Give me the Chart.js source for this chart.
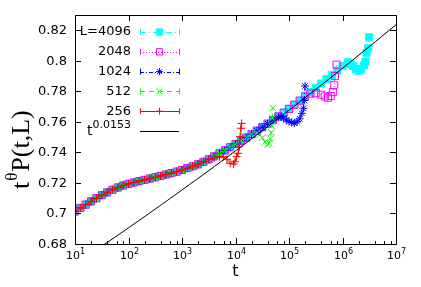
<!DOCTYPE html>
<html>
<head>
<meta charset="utf-8">
<script src="https://cdn.jsdelivr.net/npm/chart.js@4.4.1/dist/chart.umd.min.js"></script>
<style>
    body { margin: 0; background: #fff; }
    #wrap { width: 421px; height: 287px; }
</style>
</head>
<body>
<div id="wrap"><canvas id="chart"></canvas></div>
<script>
// common time grid (0.1 decade steps, t = 10 .. 1.26e6)
const tGrid = [10, 12.59, 15.85, 19.95, 25.12, 31.62, 39.81, 50.12, 63.1, 79.43,
    100, 125.9, 158.5, 199.5, 251.2, 316.2, 398.1, 501.2, 631, 794.3,
    1000, 1259, 1585, 1995, 2512, 3162, 3981, 5012, 6310, 7943,
    1e4, 12590, 15850, 19950, 25120, 31620, 39810, 50120, 63100, 79430,
    1e5, 125900, 158500, 199500, 251200, 316200, 398100, 501200, 631000, 794300,
    1e6, 1259000];
// collapsed curve, all sizes lie on it before they bend away
const baseVals = [0.7013, 0.7036, 0.7058, 0.7079, 0.7100, 0.7120, 0.7138, 0.7155, 0.7170, 0.7183,
    0.7194, 0.7203, 0.7212, 0.7220, 0.7229, 0.7237, 0.7246, 0.7255, 0.7264, 0.7274,
    0.7285, 0.7297, 0.7309, 0.7322, 0.7338, 0.7355, 0.7374, 0.7393, 0.7413, 0.7434,
    0.7455, 0.7476, 0.7497, 0.7519, 0.7542, 0.7565, 0.7588, 0.7612, 0.7636, 0.7660,
    0.7685, 0.7712, 0.7739, 0.7767, 0.7795, 0.7823, 0.7851, 0.7879, 0.7907, 0.7936,
    0.7965, 0.7990];

// finite size tails
const tail256T = [3981, 5012, 5890, 6920, 7943, 9120, 9770, 10470, 11220, 11750, 12160, 12590, 13030];
const tail256V = [0.7364, 0.7370, 0.7372, 0.7355, 0.7328, 0.7324, 0.7339, 0.7372, 0.7394, 0.7437, 0.7503, 0.7558, 0.7590];
const tail512T = [25120, 28180, 31620, 35480, 39810, 42660, 44670, 46770, 47860, 48980, 50120];
const tail512V = [0.7527, 0.7517, 0.7497, 0.7468, 0.7450, 0.7460, 0.7490, 0.7530, 0.7575, 0.7625, 0.7690];
const tail1024T = [63100, 70790, 79430, 89130, 1e5, 112200, 125900, 141300, 158500, 173800, 186200, 192800, 199500];
const tail1024V = [0.7630, 0.7634, 0.7625, 0.7612, 0.7603, 0.7596, 0.7592, 0.7601, 0.7620, 0.7656, 0.7689, 0.7740, 0.7835];
const tail2048T = [251200, 316200, 398100, 467700, 537000, 602600, 660700, 699800, 724400, 776200];
const tail2048V = [0.7785, 0.7788, 0.7778, 0.7766, 0.7758, 0.7770, 0.7795, 0.7840, 0.7900, 0.7975];
const tail4096T = [1413000, 1585000, 1778000, 1995000, 2239000, 2512000, 2692000, 2818000, 3020000, 3162000];
const tail4096V = [0.7980, 0.7965, 0.7945, 0.7935, 0.7945, 0.7970, 0.7994, 0.8053, 0.8082, 0.8154];
// where each size leaves the collapsed curve (count of grid points kept)
const keepCount = { 256: 26, 512: 34, 1024: 38, 2048: 44, 4096: 52 };

// power law t^0.0153
const fitT = [10, 100, 1000, 1e4, 1e5, 1e6, 1e7];
const fitV = [0.6667, 0.6906, 0.7154, 0.7410, 0.7676, 0.7951, 0.8236];

const yTicks = [0.68, 0.7, 0.72, 0.74, 0.76, 0.78, 0.8, 0.82];
const yTickLabels = ["0.68", "0.7", "0.72", "0.74", "0.76", "0.78", "0.8", "0.82"];
const xTickExps = [1, 2, 3, 4, 5, 6, 7];

function buildSeries(size, tailT, tailV) {
    const pts = [];
    for (let i = 0; i < keepCount[size]; i++) pts.push({ x: tGrid[i], y: baseVals[i] });
    tailT.forEach((t, i) => pts.push({ x: t, y: tailV[i] }));
    return pts;
}

const series = [
    { label: "L=4096", color: "#00ffff", style: "rect", fill: true, radius: 5, dash: [6, 3, 1, 3], data: buildSeries(4096, tail4096T, tail4096V) },
    { label: "2048", color: "#ff00ff", style: "rect", fill: false, radius: 5, dash: [1, 2], data: buildSeries(2048, tail2048T, tail2048V) },
    { label: "1024", color: "#0000ff", style: "star", fill: false, radius: 4, dash: [4, 2, 1, 2], data: buildSeries(1024, tail1024T, tail1024V) },
    { label: "512", color: "#00ff00", style: "crossRot", fill: false, radius: 4.6, dash: [5, 4], data: buildSeries(512, tail512T, tail512V) },
    { label: "256", color: "#ff0000", style: "cross", fill: false, radius: 4, dash: [], data: buildSeries(256, tail256T, tail256V) },
];

const datasets = [{
    label: "fit",
    data: fitT.map((t, i) => ({ x: t, y: fitV[i] })),
    borderColor: "#000",
    borderWidth: 1,
    pointRadius: 0,
    showLine: true,
    tension: 0.4,
}];
// later series sit on top, so push them in reverse (index 1 drawn last after the fit)
series.slice().reverse().forEach((s) => {
    datasets.push({
        label: s.label,
        data: s.data,
        borderColor: s.color,
        backgroundColor: s.fill ? s.color : "rgba(0,0,0,0)",
        borderWidth: 1,
        borderDash: s.dash,
        pointStyle: s.style,
        pointRadius: s.radius,
        pointBorderColor: s.color,
        pointBackgroundColor: s.fill ? s.color : "rgba(0,0,0,0)",
        pointBorderWidth: 1,
        showLine: true,
    });
});

const FONT = '"DejaVu Sans", sans-serif';
const SERIF = '"Liberation Serif", serif';

const decorate = {
    id: "decorate",
    afterDraw(chart) {
        const { ctx, chartArea: a, scales } = chart;
        const xs = scales.x, ys = scales.y;
        ctx.save();
        ctx.strokeStyle = "#000";
        ctx.fillStyle = "#000";
        ctx.lineWidth = 1;
        ctx.setLineDash([]);
        ctx.strokeRect(a.left + 0.5, a.top + 0.5, a.right - a.left, a.bottom - a.top);

        // y ticks, inward on both sides
        ctx.font = "13px " + FONT;
        ctx.textAlign = "right";
        ctx.textBaseline = "middle";
        yTicks.forEach((v, i) => {
            const py = Math.round(ys.getPixelForValue(v)) + 0.5;
            ctx.beginPath();
            ctx.moveTo(a.left, py); ctx.lineTo(a.left + 6, py);
            ctx.moveTo(a.right, py); ctx.lineTo(a.right - 6, py);
            ctx.stroke();
            ctx.fillText(yTickLabels[i], a.left - 8, py);
        });

        // x ticks, decades plus 2,4,6,8 minors on the bottom
        xTickExps.forEach((e) => {
            const px = Math.round(xs.getPixelForValue(Math.pow(10, e))) + 0.5;
            ctx.beginPath();
            ctx.moveTo(px, a.bottom); ctx.lineTo(px, a.bottom - 6);
            ctx.moveTo(px, a.top); ctx.lineTo(px, a.top + 6);
            ctx.stroke();
            if (e < 7) {
                [2, 4, 6, 8].forEach((m) => {
                    const mx = Math.round(xs.getPixelForValue(m * Math.pow(10, e))) + 0.5;
                    ctx.beginPath();
                    ctx.moveTo(mx, a.bottom); ctx.lineTo(mx, a.bottom - 3);
                    ctx.stroke();
                });
            }
            ctx.font = "11px " + FONT;
            const w1 = ctx.measureText("10").width;
            ctx.font = "8px " + FONT;
            const w2 = ctx.measureText(String(e)).width;
            const x0 = px - (w1 + w2) / 2;
            ctx.textAlign = "left";
            ctx.textBaseline = "alphabetic";
            ctx.font = "11px " + FONT;
            ctx.fillText("10", x0, 259);
            ctx.font = "8px " + FONT;
            ctx.fillText(String(e), x0 + w1, 254);
        });

        // axis titles
        ctx.font = "16px " + FONT;
        ctx.textAlign = "center";
        ctx.fillText("t", (a.left + a.right) / 2, 276);

        ctx.save();
        ctx.translate(29, 189);
        ctx.rotate(-Math.PI / 2);
        ctx.textAlign = "left";
        ctx.font = "26px " + SERIF;
        ctx.fillText("t", 0, 0);
        let off = ctx.measureText("t").width;
        ctx.font = "17px " + SERIF;
        ctx.fillText("\u03b8", off + 1, -12);
        off += ctx.measureText("\u03b8").width + 2;
        ctx.font = "26px " + SERIF;
        ctx.fillText("P(t,L)", off, 0);
        ctx.restore();

        // key
        const keyRight = 131;
        const lx0 = 140, lx1 = 179, lxm = 159.5;
        series.forEach((s, i) => {
            const ry = 32 + i * 19.8;
            ctx.fillStyle = "#000";
            ctx.font = "13px " + FONT;
            ctx.textAlign = "right";
            ctx.textBaseline = "middle";
            ctx.fillText(s.label, keyRight, ry);
            ctx.strokeStyle = s.color;
            ctx.lineWidth = 1;
            ctx.setLineDash(s.dash);
            ctx.beginPath();
            ctx.moveTo(lx0, Math.round(ry) + 0.5); ctx.lineTo(lx1, Math.round(ry) + 0.5);
            ctx.stroke();
            ctx.setLineDash([]);
            ctx.beginPath();
            ctx.moveTo(lx0 + 0.5, ry - 3); ctx.lineTo(lx0 + 0.5, ry + 3);
            ctx.moveTo(lx1 + 0.5, ry - 3); ctx.lineTo(lx1 + 0.5, ry + 3);
            ctx.stroke();
            ctx.fillStyle = s.fill ? s.color : "rgba(0,0,0,0)";
            Chart.helpers.drawPoint(ctx, { pointStyle: s.style, radius: s.radius - 0.6, rotation: 0, borderWidth: 1 }, lxm, ry);
        });
        const fy = 32 + 5 * 19.8;
        ctx.fillStyle = "#000";
        ctx.textAlign = "left";
        ctx.textBaseline = "alphabetic";
        ctx.font = "11px " + FONT;
        const expW = ctx.measureText("0.0153").width;
        ctx.font = "14px " + FONT;
        const tW = ctx.measureText("t").width;
        const fx = keyRight - expW - tW;
        ctx.fillText("t", fx, fy + 4);
        ctx.font = "11px " + FONT;
        ctx.fillText("0.0153", fx + tW, fy - 3);
        ctx.strokeStyle = "#000";
        ctx.beginPath();
        ctx.moveTo(lx0, Math.round(fy) + 0.5); ctx.lineTo(lx1, Math.round(fy) + 0.5);
        ctx.stroke();
        ctx.restore();
    },
};

new Chart(document.getElementById("chart"), {
    type: "scatter",
    data: { datasets: datasets },
    options: {
        responsive: true,
        maintainAspectRatio: false,
        animation: false,
        devicePixelRatio: 1,
        layout: { padding: { left: 75, right: 25, top: 15, bottom: 43 } },
        plugins: { legend: { display: false }, tooltip: { enabled: false } },
        scales: {
            x: { type: "logarithmic", min: 10, max: 1e7, display: false },
            y: { type: "linear", min: 0.68, max: 0.83, display: false },
        },
    },
    plugins: [decorate],
});
</script>
</body>
</html>
